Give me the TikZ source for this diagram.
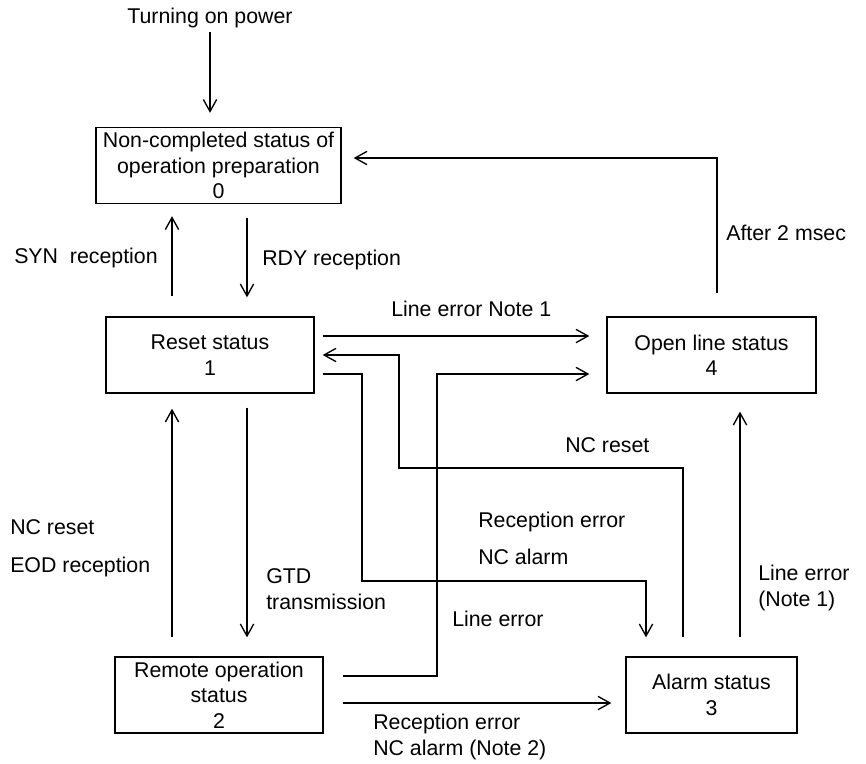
\documentclass[tikz,border=0pt]{standalone}
\usepackage{fontspec}
\setmainfont{Liberation Sans}
\usetikzlibrary{arrows.meta,calc}

\begin{document}
\begin{tikzpicture}[x=0.75pt,y=0.75pt,yscale=-1,xscale=1,
  font=\fontsize{16}{19}\selectfont,
  state/.style={draw,line width=1pt,align=center,inner sep=0pt,minimum height=57pt},
  lbl/.style={align=left,inner sep=0pt,anchor=west},
  arr/.style={line width=1pt,-{Straight Barb[length=9pt,width=10pt]}}]
\useasboundingbox (0,0) rectangle (866,763);
%Shape: Rectangle [states]
\node[state,minimum width=183.75pt] (s0) at (218.5,165.5) {Non-completed status of\\operation preparation\\0};
\node[state,minimum width=156pt] (s1) at (210,355) {Reset status\\1};
\node[state,minimum width=156.75pt] (s4) at (711.5,355) {Open line status\\4};
\node[state,minimum width=156pt] (s2) at (219,695) {Remote operation\\status\\2};
\node[state,minimum width=128.25pt] (s3) at (711.5,695) {Alarm status\\3};
% Text Node
\node[inner sep=0pt] (power) at (210,18) {Turning on power};
\node[inner sep=0pt,anchor=east] (syn) at (158,258) {SYN\ \ reception};
\node[lbl] (rdy) at (262,260) {RDY reception};
\node[lbl] (after) at (726,233) {After 2 msec};
\node[lbl] (lenote) at (391,309) {Line error Note 1};
\node[lbl] (ncresetr) at (565,445) {NC reset};
\node[lbl] (recerr) at (478,522) {Reception error};
\node[lbl] (ncalarm) at (478,557) {NC alarm};
\node[lbl] (ncresetl) at (10,527) {NC reset};
\node[lbl] (eod) at (10,567) {EOD reception};
\node[lbl] (gtd) at (266,589) {GTD\\transmission};
\node[lbl] (lineerr) at (452,619) {Line error};
\node[lbl] (lenotei) at (758,588) {Line error\\(Note 1)};
\node[lbl] (recnote) at (373,737) {Reception error\\NC alarm (Note 2)};
% corners of the bent lines
\coordinate (ncr) at (399,468);
\coordinate (rea) at (362,581);
\coordinate (lec) at (437,374);
%Straight Lines
\draw[arr] ($(power.south)+(0,4)$) -- ($(s0.north)+(-8.5,-14)$);
\draw[arr] ($(s1.north)+(-38,-20)$) -- ($(s0.south)+(-46.5,12)$);
\draw[arr] ($(s0.south)+(28.5,14)$) -- ($(s1.north)+(37,-19)$);
\draw[arr] ($(s1.east)+(8,-19)$) -- ($(s4.west)+(-17,-19)$);
\draw[arr] ($(s3.north)+(-28.5,-19)$) |- (ncr) |- ($(s1.east)+(8,0)$);
\draw[arr] ($(s1.east)+(8,19)$) -| (rea) -| ($(s3.north)+(-65.5,-19)$);
\draw[arr] ($(s2.east)+(19,-19)$) -| (lec) -- ($(s4.west)+(-17,19)$);
\draw[arr] ($(s2.east)+(19,8)$) -- ($(s3.west)+(-14,8)$);
\draw[arr] ($(s2.north)+(-47,-19)$) -- ($(s1.south)+(-38,15)$);
\draw[arr] ($(s1.south)+(37,14)$) -- ($(s2.north)+(28,-19)$);
\draw[arr] ($(s3.north)+(28.5,-19)$) -- ($(s4.south)+(28.5,18)$);
\draw[arr] ($(s4.north)+(5.5,-23)$) |- ($(s0.east)+(12,-7.5)$);
\end{tikzpicture}
\end{document}
